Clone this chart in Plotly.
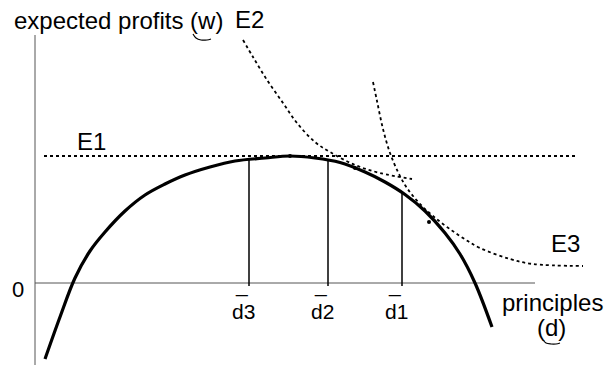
import plotly.graph_objects as go

# Chart units: origin at the intersection of the axes
profit_x = [10, 25, 40, 55, 70, 90, 110, 130, 150, 175, 200, 230, 255, 280, 305, 330, 350, 370, 390, 410, 425, 440, 457]
profit_y = [-76, -34, 5, 32, 51, 72, 88, 99, 108, 116, 122, 125, 127, 125, 120.5, 111, 101, 88.5, 72, 50, 29, 0, -44]

e1_x = [9, 542]
e1_y = [127, 127]

e2_x = [208, 218, 232, 248, 262, 280, 295, 320, 345, 377]
e2_y = [243, 226, 203, 180, 160, 141, 131, 118, 110, 104]

e3_x = [338, 342, 348, 355, 363, 370, 378, 388, 398, 412, 428, 445, 475, 498, 548]
e3_y = [201, 182, 154, 130, 111, 98, 87, 76, 67, 56, 45, 35, 24, 19, 17]

d_names = ["d1", "d2", "d3"]
d_x = [367, 293, 214]
d_top = [90.5, 123, 124]

point_x = [255, 320, 394]
point_y = [127, 115, 61]

x_axis_end = 500
y_axis_top = 248

fig = go.Figure()

# axes
fig.add_trace(go.Scatter(x=[0, x_axis_end], y=[0, 0], mode="lines",
                         line=dict(color="#555555", width=1), hoverinfo="skip"))
fig.add_trace(go.Scatter(x=[0, 0], y=[y_axis_top, -82], mode="lines",
                         line=dict(color="#555555", width=1), hoverinfo="skip"))

# vertical d lines
for xv, top in zip(d_x, d_top):
    fig.add_trace(go.Scatter(x=[xv, xv], y=[-3, top], mode="lines",
                             line=dict(color="black", width=1.5), hoverinfo="skip"))

# iso lines
dot = "3px,3px"
fig.add_trace(go.Scatter(x=e1_x, y=e1_y, mode="lines",
                         line=dict(color="black", width=1.8, dash=dot)))
fig.add_trace(go.Scatter(x=e2_x, y=e2_y, mode="lines",
                         line=dict(color="black", width=1.8, dash=dot, shape="spline")))
fig.add_trace(go.Scatter(x=e3_x, y=e3_y, mode="lines",
                         line=dict(color="black", width=1.8, dash=dot, shape="spline")))

# profit curve
fig.add_trace(go.Scatter(x=profit_x, y=profit_y, mode="lines",
                         line=dict(color="black", width=3.2, shape="spline", smoothing=1.0)))
fig.add_trace(go.Scatter(x=point_x, y=point_y, mode="markers",
                         marker=dict(color="black", size=4)))

FS = 24
font = dict(family="Liberation Sans, Arial, sans-serif", size=FS, color="black")
ann = []
def label(text, x, y, xanchor="center", yanchor="middle", size=FS):
    f = dict(font); f["size"] = size
    ann.append(dict(text=text, x=x, y=y, xref="x", yref="y", showarrow=False,
                    xanchor=xanchor, yanchor=yanchor, font=f))

label("expected profits (w)", -23, 263, xanchor="left")
label("E2", 214, 264)
label("E1", 56, 142)
label("E3", 530, 40)
label("0", -17, -6, size=22)
label("principles", 517, -19)
label("(d)", 516, -44)
for name, xv in zip(d_names, d_x):
    label(name, xv - 6, -28, size=21)
    label("_", xv - 8, -2, size=21)
fig.update_layout(annotations=ann)

# hand-drawn underline strokes
fig.add_trace(go.Scatter(x=[158, 161, 166, 172, 176], y=[249, 245, 243, 243, 244], mode="lines",
                         line=dict(color="black", width=1.2, shape="spline")))
fig.add_trace(go.Scatter(x=[508, 511, 516, 521, 525], y=[-57, -60, -61, -61, -60], mode="lines",
                         line=dict(color="black", width=1.2, shape="spline")))

fig.update_layout(
    width=605, height=365,
    margin=dict(l=0, r=0, t=0, b=0),
    paper_bgcolor="white", plot_bgcolor="white",
    showlegend=False,
    xaxis=dict(range=[-35, 570], visible=False, fixedrange=True),
    yaxis=dict(range=[-82, 283], visible=False, fixedrange=True),
)

fig.write_html("out.html", config={"displayModeBar": False},
               post_script="document.body.style.margin='0px';")
